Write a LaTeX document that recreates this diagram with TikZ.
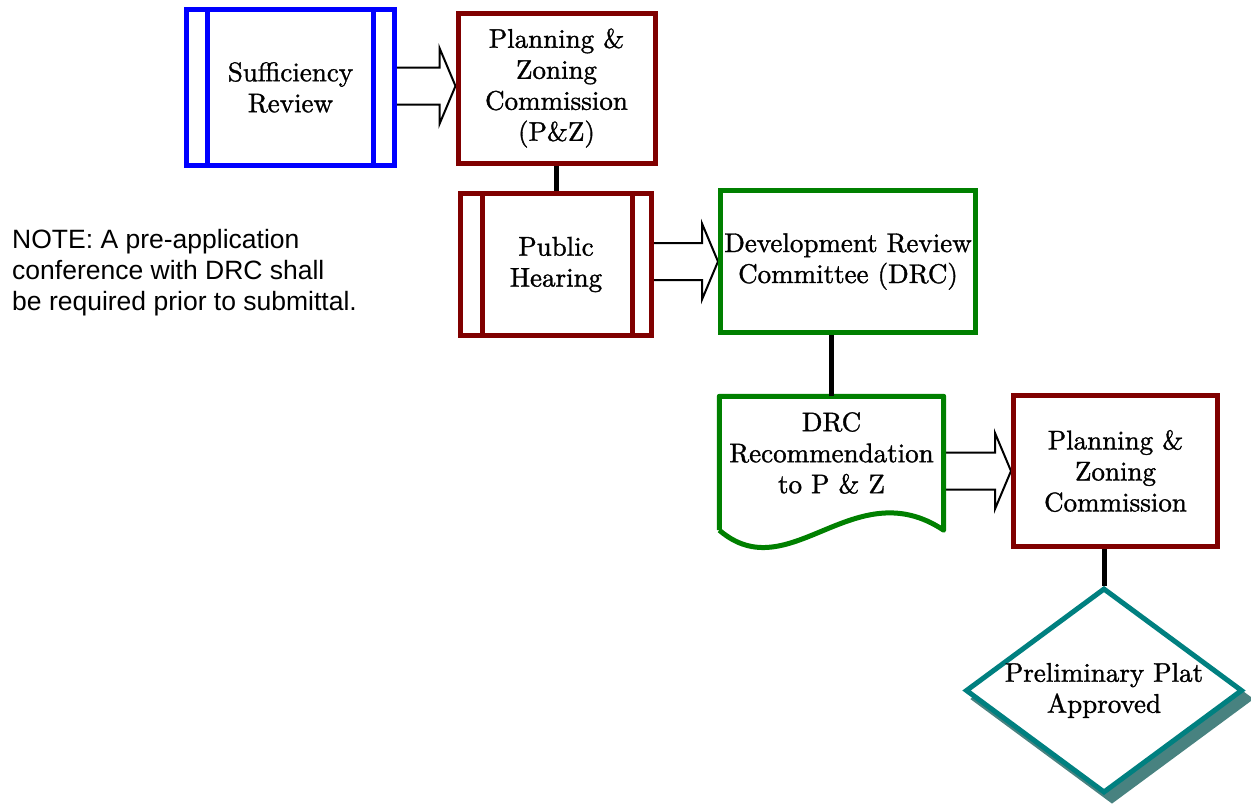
\documentclass[tikz,border=0pt]{standalone}
\usepackage{fontspec}
\newfontfamily\notefont{Liberation Sans}
\newfontfamily\boxfont{lmroman10-regular}[Extension=.otf, FakeBold=1.2]
\usetikzlibrary{calc,shapes.geometric}
\definecolor{sblue}{RGB}{0,0,255}
\definecolor{pzred}{RGB}{128,0,0}
\definecolor{dgreen}{RGB}{0,128,0}
\definecolor{dteal}{RGB}{0,128,128}
\definecolor{shadowteal}{RGB}{72,130,128}
\newcommand\blockarrow[2]{%
  \draw[barrow] ($(#1)+(0,-18.5)$) -- ($(#2)+(-16,-18.5)$) -- ($(#2)+(-16,-38)$) -- (#2)
    -- ($(#2)+(-16,38)$) -- ($(#2)+(-16,18.5)$) -- ($(#1)+(0,18.5)$);}
\begin{document}
\begin{tikzpicture}[x=1pt,y=-1pt,
  serif/.style={font=\boxfont\fontsize{27}{31}\selectfont, align=center},
  box/.style={serif, draw, line width=5pt, rectangle, inner sep=0pt},
  barrow/.style={draw=black, line width=2pt, fill=white, line join=miter},
  conn/.style={draw=black, line width=5pt},
  inner/.style={line width=5pt}]
\useasboundingbox (0,0) rectangle (1251,804);

% invisible helper box for the document shape
\node[minimum width=224, minimum height=133.5, inner sep=0] (docbox) at (831.5,463.25) {};

% nodes
\node[box, draw=sblue, minimum width=208, minimum height=156] (suff) at (290.5,87.5) {Sufficiency\\Review};
\node[box, draw=pzred, minimum width=197, minimum height=150] (pz1) at (556.5,88) {Planning \&\\Zoning\\Commission\\(P\&Z)};
\node[box, draw=pzred, minimum width=191, minimum height=142] (ph) at (556,264.5) {Public\\Hearing};
\node[box, draw=dgreen, minimum width=255, minimum height=142] (drc) at (848,261.5) {Development Review\\Committee (DRC)};
\node[serif] (doc) at (831.5,453) {DRC\\Recommendation\\to P \& Z};
\node[box, draw=pzred, minimum width=204, minimum height=151] (pz2) at (1115.5,471) {Planning \&\\Zoning\\Commission};

% block arrows
\coordinate (a1s) at ($(suff.east)+(0,-1.5)$);
\coordinate (a1e) at (pz1.west |- a1s);
\blockarrow{a1s}{a1e}
\coordinate (a2s) at ($(ph.east)+(0,-3)$);
\coordinate (a2e) at (drc.west |- a2s);
\blockarrow{a2s}{a2e}
\coordinate (a3e) at (pz2.west);
\coordinate (a3s) at (docbox.east |- a3e);
\blockarrow{a3s}{a3e}

% redraw box borders over arrows
\node[box, draw=sblue, minimum width=208, minimum height=156] at (suff) {};
\node[box, draw=pzred, minimum width=197, minimum height=150] at (pz1) {};
\node[box, draw=dgreen, minimum width=255, minimum height=142] at (drc) {};
\node[box, draw=pzred, minimum width=204, minimum height=151] at (pz2) {};

% inner lines (predefined process)
\draw[inner, sblue] ($(suff.north west)+(23.5,0)$) -- ($(suff.south west)+(23.5,0)$);
\draw[inner, sblue] ($(suff.north east)+(-24,0)$) -- ($(suff.south east)+(-24,0)$);
\draw[inner, pzred] ($(ph.north west)+(24,0)$) -- ($(ph.south west)+(24,0)$);
\draw[inner, pzred] ($(ph.north east)+(-22,0)$) -- ($(ph.south east)+(-22,0)$);

% document shape
\draw[dgreen, line width=5pt, line join=round]
  (docbox.south west) -- (docbox.north west) -- (docbox.north east) -- (docbox.south east)
  .. controls ($(docbox.south east)+(-90,-60)$) and ($(docbox.south west)+(70,60)$) .. (docbox.south west);

% diamond with shadow
\node[diamond, draw=shadowteal, fill=shadowteal, line width=5pt, minimum width=277, minimum height=205, inner sep=0] (diash) at (1112,699) {};
\node[diamond, draw=dteal, fill=white, line width=5pt, minimum width=277, minimum height=205, inner sep=0] (dia) at (1104,690.5) {};
\node[serif] (diatext) at (dia.center) {Preliminary Plat\\Approved};

% connectors
\draw[conn] (pz1.south) -- (pz1.south |- ph.north);
\draw[conn] (docbox.north) -- (docbox.north |- drc.south);
\draw[conn] (dia.north) -- (dia.north |- pz2.south);

% note
\node[font=\notefont\fontsize{26.5}{31}\selectfont, align=left, anchor=west, inner sep=0] (note) at (12,273)
  {NOTE: A pre-application\\conference with DRC shall\\be required prior to submittal.};
\end{tikzpicture}
\end{document}
